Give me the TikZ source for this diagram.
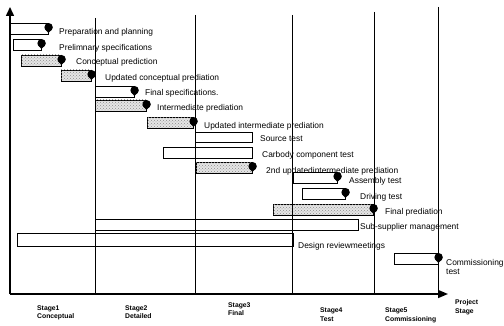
\documentclass[tikz,border=0pt]{standalone}
\usepackage{fontspec}
\setmainfont{Liberation Sans}
\usetikzlibrary{arrows.meta,patterns}
\newcommand\gpin[2]{%
  \fill (#1+0.6,#2+4.2) circle (4.2);
  \fill (#1-3.4,#2+5.6) -- (#1+4.6,#2+5.6) -- (#1+0.4,#2+10) -- cycle;}
\begin{document}
\begin{tikzpicture}[x=1pt,y=-1pt,
  lab/.style={anchor=west,inner sep=0pt,font=\fontsize{8.4}{9}\selectfont},
  stg/.style={anchor=base west,inner sep=0pt,font=\bfseries\fontsize{6.8}{8}\selectfont},
  wbar/.style={draw,line width=0.9pt},
  sbar/.style={draw,line width=0.9pt,fill=black!10,postaction={pattern=crosshatch dots,pattern color=black!45}},
  gline/.style={line width=0.9pt},
  axis/.style={line width=1.5pt}]
\useasboundingbox (0,0) rectangle (504,326);

% bars
\draw[wbar] (10,23) rectangle (48,34);   \gpin{48}{23}
\draw[wbar] (13,39) rectangle (41,50);   \gpin{41}{39}
\draw[sbar] (21,55) rectangle (61,66);   \gpin{61}{55}
\draw[sbar] (61,70) rectangle (91,81);   \gpin{91}{70}
\draw[wbar] (95,86) rectangle (134,97);  \gpin{134}{86}
\draw[sbar] (95,100) rectangle (146,111); \gpin{146}{100}
\draw[sbar] (147,117) rectangle (193,128); \gpin{193}{117}
\draw[wbar] (195,132) rectangle (252,142);
\draw[wbar] (163,147) rectangle (252,158);
\draw[sbar] (196,162) rectangle (252,173); \gpin{252}{162}
\draw[wbar] (293,172) rectangle (337,183); \gpin{337}{172}
\draw[wbar] (302,188) rectangle (345,199); \gpin{345}{188}
\draw[sbar] (273,204) rectangle (373,215); \gpin{373}{204}
\draw[wbar] (95,219) rectangle (358,230);
\draw[wbar] (17,233) rectangle (293,246);
\draw[wbar] (394,253) rectangle (438,264); \gpin{438}{253}

% stage lines
\coordinate (o) at (10,294);
\coordinate (ytop) at (10,7);
\coordinate (xend) at (448,294);
\draw[gline] (95,18) -- (95,294);
\draw[gline] (195,15) -- (195,294);
\draw[gline] (292,15) -- (292,294);
\draw[gline] (374,12) -- (374,294);
\draw[gline] (438,7) -- (438,294);

% axes
\draw[axis,-{Triangle[length=9pt,width=8pt]}] (o) -- (ytop);
\draw[axis,-{Triangle[length=10pt,width=8pt]}] (o) -- (xend);

% labels
\node[lab] (l1) at (59,32) {Preparation and planning};
\node[lab] (l2) at (59,48) {Prelimnary specifications};
\node[lab] (l3) at (76,62) {Conceptual prediction};
\node[lab] (l4) at (105,78) {Updated conceptual prediation};
\node[lab] (l5) at (145,93) {Final specifications.};
\node[lab] (l6) at (157,108) {Intermediate prediation};
\node[lab] (l7) at (204,126) {Updated intermediate prediation};
\node[lab] (l8) at (260,139) {Source test};
\node[lab] (l9) at (262,155) {Carbody component test};
\node[lab] (l10) at (266,171) {2nd updatedintermediate prediation};
\node[lab] (l11) at (349,181) {Assembly test};
\node[lab] (l12) at (360,197) {Driving test};
\node[lab] (l13) at (385,212) {Final prediation};
\node[lab] (l14) at (360,227) {Sub-supplier management};
\node[lab] (l15) at (298,246) {Design reviewmeetings};
\node[lab] (l16a) at (446,263) {Commissioning};
\node[lab] (l16b) at (446,272) {test};

% stage labels
\node[stg] (s1a) at (37,310.5) {Stage1};
\node[stg] (s1b) at (37,319) {Conceptual};
\node[stg] (s2a) at (125,310.5) {Stage2};
\node[stg] (s2b) at (125,319) {Detailed};
\node[stg] (s3a) at (228,307.5) {Stage3};
\node[stg] (s3b) at (228,315.5) {Final};
\node[stg] (s4a) at (320,312.5) {Stage4};
\node[stg] (s4b) at (320,321) {Test};
\node[stg] (s5a) at (385,312.5) {Stage5};
\node[stg] (s5b) at (385,321) {Commissioning};
\node[stg] (pa) at (455,304.5) {Project};
\node[stg] (pb) at (455,313.5) {Stage};
\end{tikzpicture}
\end{document}
